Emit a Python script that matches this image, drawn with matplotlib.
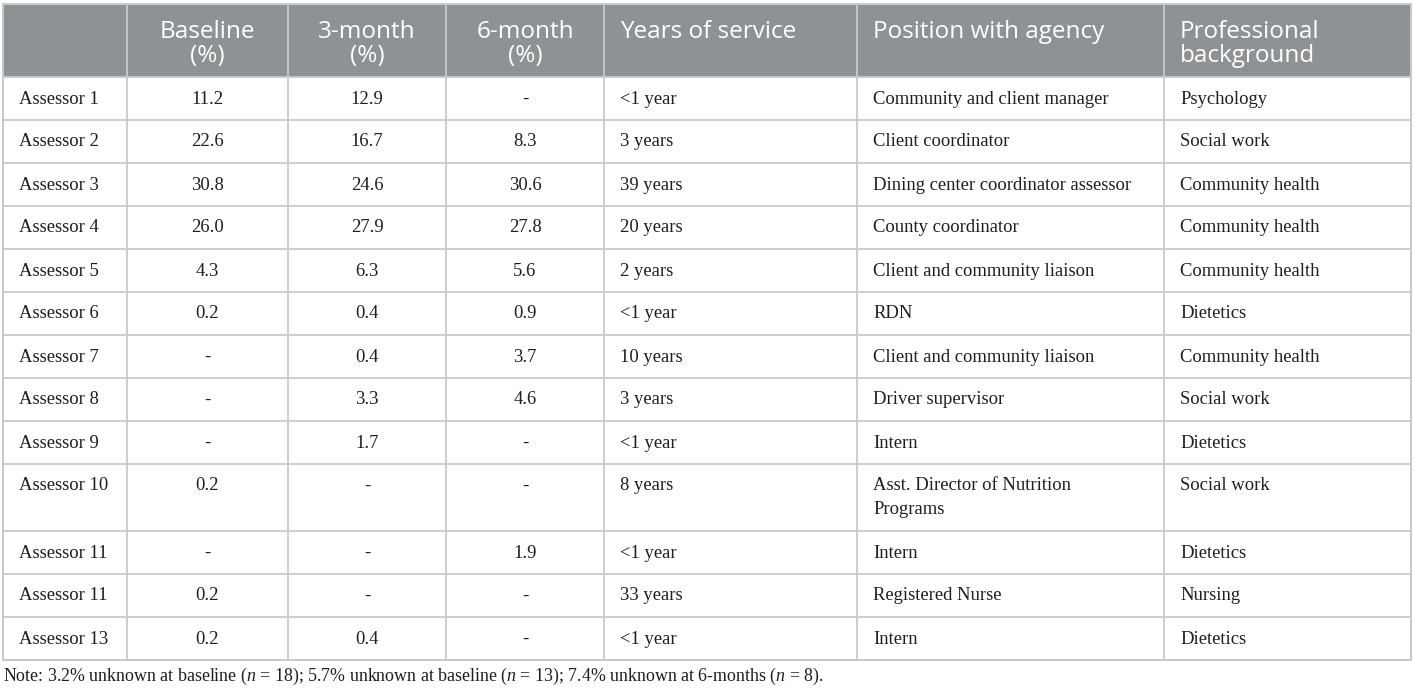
import matplotlib
matplotlib.use("Agg")
import matplotlib.pyplot as plt
from matplotlib.patches import Rectangle

plt.rcParams['mathtext.fontset'] = 'custom'
plt.rcParams['mathtext.rm'] = 'Liberation Serif'
plt.rcParams['mathtext.it'] = 'Liberation Serif:italic'

# table content
headers = ["", "Baseline\n(%)", "3-month\n(%)", "6-month\n(%)",
           "Years of service", "Position with agency", "Professional\nbackground"]
assessors = ["Assessor 1", "Assessor 2", "Assessor 3", "Assessor 4", "Assessor 5",
             "Assessor 6", "Assessor 7", "Assessor 8", "Assessor 9", "Assessor 10",
             "Assessor 11", "Assessor 11", "Assessor 13"]
baseline = ["11.2", "22.6", "30.8", "26.0", "4.3", "0.2", "-", "-", "-", "0.2", "-", "0.2", "0.2"]
three_month = ["12.9", "16.7", "24.6", "27.9", "6.3", "0.4", "0.4", "3.3", "1.7", "-", "-", "-", "0.4"]
six_month = ["-", "8.3", "30.6", "27.8", "5.6", "0.9", "3.7", "4.6", "-", "-", "1.9", "-", "-"]
years = ["<1 year", "3 years", "39 years", "20 years", "2 years", "<1 year", "10 years",
         "3 years", "<1 year", "8 years", "<1 year", "33 years", "<1 year"]
position = ["Community and client manager", "Client coordinator",
            "Dining center coordinator assessor", "County coordinator",
            "Client and community liaison", "RDN", "Client and community liaison",
            "Driver supervisor", "Intern", "Asst. Director of Nutrition\nPrograms",
            "Intern", "Registered Nurse", "Intern"]
background = ["Psychology", "Social work", "Community health", "Community health",
              "Community health", "Dietetics", "Community health", "Social work",
              "Dietetics", "Social work", "Dietetics", "Nursing", "Dietetics"]
note = ("Note: 3.2% unknown at baseline ($n$ = 18); 5.7% unknown at baseline ($n$ = 13); "
        "7.4% unknown at 6-months ($n$ = 8).")

columns = [assessors, baseline, three_month, six_month, years, position, background]

# layout (pixels)
col_edges = [3, 127, 288, 446, 604, 857, 1164, 1411]
aligns = ["left", "center", "center", "center", "left", "left", "left"]
head_top, head_bot = 4, 77
row_h = [43] * 9 + [67] + [43] * 3
line_gap = 24
grid_c = "#c9cbcb"
head_bg = "#8f9294"

fig = plt.figure(figsize=(14.14, 6.92), dpi=100)
ax = fig.add_axes([0, 0, 1, 1])
ax.set_xlim(0, 1414)
ax.set_ylim(692, 0)
ax.axis("off")

# header band
ax.add_patch(Rectangle((col_edges[0], head_top), col_edges[-1] - col_edges[0],
                       head_bot - head_top, facecolor=head_bg, edgecolor="none"))


def cell_x(j, align):
    if align == "center":
        return (col_edges[j] + col_edges[j + 1]) / 2
    return col_edges[j] + 16


for j, h in enumerate(headers):
    for k, line in enumerate(h.split("\n")):
        ax.text(cell_x(j, aligns[j]), head_top + 28 + k * 24, line,
                ha=aligns[j], va="center", color="white",
                fontsize=17.5, family="Open Sans")

# body rows
y = head_bot
row_tops = []
for i in range(len(assessors)):
    row_tops.append(y)
    for j, col in enumerate(columns):
        for k, line in enumerate(col[i].split("\n")):
            ax.text(cell_x(j, aligns[j]), y + 22 + k * line_gap, line,
                    ha=aligns[j], va="center", color="#1e1e1e",
                    fontsize=13.4, family="Liberation Serif")
    y += row_h[i]
table_bot = y

# grid lines
for yy in row_tops[1:]:
    ax.plot([col_edges[0], col_edges[-1]], [yy, yy], color=grid_c, lw=1.3)
ax.plot([col_edges[0], col_edges[-1]], [head_bot, head_bot], color=grid_c, lw=1.3)
for xx in col_edges[1:-1]:
    ax.plot([xx, xx], [head_top, table_bot], color=grid_c, lw=1.3)
ax.add_patch(Rectangle((col_edges[0], head_top), col_edges[-1] - col_edges[0],
                       table_bot - head_top, facecolor="none", edgecolor=grid_c, lw=1.5))

ax.text(col_edges[0], table_bot + 16, note, ha="left", va="center", color="#1e1e1e",
        fontsize=12.9, family="Liberation Serif")

fig.savefig("out.png", dpi=100)
